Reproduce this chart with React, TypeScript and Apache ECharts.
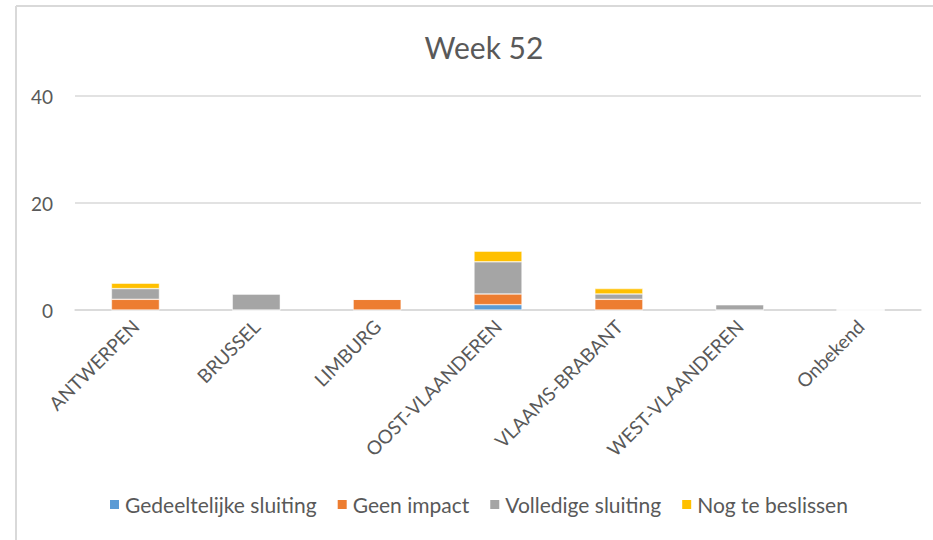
import React, { useEffect, useRef } from "react";
import * as echarts from "echarts";

const categories = ["ANTWERPEN", "BRUSSEL", "LIMBURG", "OOST-VLAANDEREN", "VLAAMS-BRABANT", "WEST-VLAANDEREN", "Onbekend"];
const gedeeltelijke = [0, 0, 0, 1, 0, 0, 0];
const geenImpact = [2, 0, 2, 2, 2, 0, 0];
const volledige = [2, 3, 0, 6, 1, 1, 0];
const nogTeBeslissen = [1, 0, 0, 2, 1, 0, 0];
const seriesNames = ["Gedeeltelijke sluiting", "Geen impact", "Volledige sluiting", "Nog te beslissen"];
const colors = ["#5B9BD5", "#ED7D31", "#A5A5A5", "#FFC000"];

const FONT = "Lato, 'Open Sans', sans-serif";

export default function App() {
  const ref = useRef<HTMLDivElement>(null);
  useEffect(() => {
    if (!ref.current) return;
    const chart = echarts.init(ref.current, undefined, { renderer: "svg" });
    const data = [gedeeltelijke, geenImpact, volledige, nogTeBeslissen];
    chart.setOption({
      animation: false,
      backgroundColor: "#ffffff",
      textStyle: { fontFamily: FONT },
      title: {
        text: "Week 52",
        left: 479,
        top: 27,
        textAlign: "center",
        textStyle: { fontSize: 30, fontWeight: "normal", color: "#595959", fontFamily: FONT },
      },
      legend: {
        data: seriesNames,
        bottom: 20,
        left: 103,
        itemWidth: 11,
        itemHeight: 11,
        itemGap: 19,
        icon: "rect",
        textStyle: { fontSize: 21, color: "#595959", fontFamily: FONT },
      },
      grid: { left: 75, right: 12, top: 96, bottom: 230, containLabel: false },
      xAxis: {
        type: "category",
        data: categories,
        axisLine: { lineStyle: { color: "#d9d9d9", width: 1.5 } },
        axisTick: { show: false },
        axisLabel: { rotate: 45, fontSize: 19, color: "#595959", margin: 13, interval: 0, fontFamily: FONT },
      },
      yAxis: {
        type: "value",
        min: 0,
        max: 40,
        interval: 20,
        axisLine: { show: false },
        axisTick: { show: false },
        splitLine: { lineStyle: { color: "#d9d9d9", width: 1.5 } },
        axisLabel: { fontSize: 19, color: "#595959", margin: 22, fontFamily: FONT },
      },
      graphic: [
        { type: "line", shape: { x1: 16, y1: 6, x2: 933, y2: 6 }, style: { stroke: "#d9d9d9", lineWidth: 2 } },
        { type: "line", shape: { x1: 16, y1: 6, x2: 16, y2: 540 }, style: { stroke: "#d9d9d9", lineWidth: 2 } },
      ],
      series: seriesNames.map((name, i) => ({
        name,
        type: "bar",
        stack: "total",
        barWidth: 48,
        data: data[i],
        itemStyle: { color: colors[i], borderColor: "#ffffff", borderWidth: 0.5 },
      })),
    });
    return () => chart.dispose();
  }, []);
  return <div ref={ref} style={{ position: "fixed", left: 0, top: 0, width: 933, height: 540 }} />;
}
